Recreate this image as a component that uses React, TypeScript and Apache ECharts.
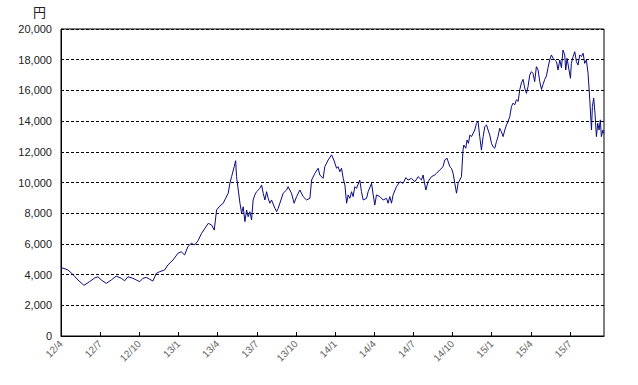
import React, { useEffect, useRef } from "react";
import * as echarts from "echarts";

// months elapsed since 2012-04 (x) and closing price in yen (y)
const months = [
  0.02, 0.23, 0.54, 0.92, 1.3, 1.76, 2.2, 2.58, 2.83, 3.09, 3.47, 3.85, 4.23, 4.62, 4.88, 5.13,
  5.51, 5.77, 6.03, 6.28, 6.53, 6.79, 7.04, 7.3, 7.56, 7.94, 8.19, 8.58, 8.96, 9.21, 9.47, 9.72,
  9.98, 10.24, 10.49, 10.77, 11.03, 11.28, 11.54, 11.74, 11.92, 12.17, 12.43, 12.61, 12.81, 12.94,
  13.07, 13.27, 13.38, 13.45, 13.58, 13.71, 13.84, 13.96, 14.09, 14.22, 14.34, 14.47, 14.6, 14.72,
  14.85, 14.98, 15.24, 15.37, 15.49, 15.62, 15.75, 15.87, 16.0, 16.13, 16.39, 16.52, 16.64, 16.85,
  17.02, 17.28, 17.4, 17.66, 17.86, 18.05, 18.3, 18.55, 18.81, 19.07, 19.2, 19.45, 19.7, 19.83,
  20.08, 20.21, 20.47, 20.73, 20.93, 21.11, 21.23, 21.36, 21.49, 21.62, 21.75, 21.88, 22.0, 22.13,
  22.26, 22.38, 22.51, 22.64, 22.89, 23.02, 23.15, 23.41, 23.53, 23.79, 23.92, 24.04, 24.17, 24.43,
  24.68, 24.94, 25.06, 25.19, 25.32, 25.44, 25.7, 25.96, 26.21, 26.42, 26.59, 26.85, 27.11, 27.36,
  27.62, 27.74, 27.95, 28.12, 28.38, 28.64, 28.77, 29.02, 29.27, 29.4, 29.58, 29.66, 29.79, 29.91,
  30.04, 30.17, 30.3, 30.42, 30.55, 30.68, 30.8, 30.86, 31.01, 31.11, 31.22, 31.32, 31.45, 31.57,
  31.7, 31.83, 31.95, 32.08, 32.21, 32.34, 32.47, 32.6, 32.72, 32.85, 32.98, 33.1, 33.23, 33.36,
  33.48, 33.61, 33.74, 33.87, 34.0, 34.13, 34.25, 34.38, 34.51, 34.63, 34.76, 34.89, 35.02, 35.15,
  35.28, 35.4, 35.53, 35.66, 35.78, 35.91, 36.04, 36.16, 36.29, 36.42, 36.55, 36.68, 36.81, 36.93,
  37.06, 37.19, 37.31, 37.44, 37.57, 37.7, 37.83, 37.96, 38.08, 38.21, 38.34, 38.46, 38.59, 38.67,
  38.77, 38.92, 39.03, 39.1, 39.23, 39.36, 39.49, 39.61, 39.74, 39.87, 40.0, 40.12, 40.25, 40.38,
  40.51, 40.64, 40.71, 40.81, 40.91, 41.02, 41.12, 41.22, 41.32, 41.4, 41.52, 41.58,
];

const prices = [
  4450, 4400, 4300, 4000, 3650, 3300, 3550, 3780, 3860, 3650, 3430, 3650, 3900, 3760, 3600, 3860,
  3760, 3650, 3540, 3760, 3820, 3700, 3580, 4080, 4190, 4300, 4630, 4950, 5390, 5490, 5280, 5820,
  6040, 5930, 6200, 6690, 7020, 7340, 7230, 6900, 8210, 8470, 8650, 8970, 9300, 9950,
  10380, 11030, 11420, 10380, 9510, 8650, 7990, 8420, 7450, 8210, 7770, 8100, 7560, 8860,
  9190, 9400, 9620, 9840, 9300, 8860, 9400, 8970, 8650, 8860, 8320, 8100, 8320, 8860,
  9300, 9510, 9730, 9300, 8650, 9080, 9510, 9080, 8860, 8970, 10160, 10600, 10930, 10490,
  10270, 11030, 11470, 11800, 11400, 10930, 11030, 10700, 10930, 10270, 9840, 8650, 9190, 8970,
  9400, 9080, 9730, 9620, 10160, 9400, 8860, 8970, 9400, 9950, 9190, 8530, 9190, 9080,
  8860, 8970, 8650, 9080, 8650, 9190, 9730, 10050, 9950, 10320, 10160, 10270, 10050, 10380,
  10160, 10490, 9510, 10050, 10380, 10490, 10600, 10820, 11030, 11470, 11580, 11360, 11030, 10930,
  10600, 9950, 9300, 9950, 10160, 10380, 12120, 12440, 12230, 12770, 12550, 13090, 12990, 13200,
  13420, 13860, 13970, 12990, 12120, 12990, 13640, 13750, 13420, 13090, 12550, 12330, 12230, 12660,
  12990, 13530, 13310, 12990, 13420, 13750, 13970, 14290, 14950, 15170, 15060, 15390, 15280, 16060,
  16500, 16720, 16140, 15810, 16250, 17000, 17220, 17110, 16570, 17550, 17330, 16570, 16060, 16390,
  16720, 16940, 17480, 17980, 18310, 18090, 17980, 17870, 17330, 17980, 17480, 18630, 18310, 17330,
  18090, 17330, 16790, 17760, 18200, 18520, 17870, 17650, 18310, 18200, 18420, 17760, 17980, 17110,
  15390, 13420, 14950, 15500, 14510, 12990, 13860, 13420, 14080, 12990, 13420, 13200,
];

const unitLabel = "円";
const yTicks = { min: 0, max: 20000, step: 2000 };
const xRange = { min: 0, max: 41.6, step: 3 };

export default function App() {
  const ref = useRef<HTMLDivElement>(null);

  useEffect(() => {
    if (!ref.current) return;
    const chart = echarts.init(ref.current, undefined, { renderer: "svg" });
    const fmtMonth = (v: number) => {
      const m = Math.round(v);
      const y = 12 + Math.floor((3 + m) / 12);
      const mo = ((3 + m) % 12) + 1;
      return `${y}/${mo}`;
    };
    chart.setOption({
      animation: false,
      backgroundColor: "#fff",
      grid: {
        left: 61,
        right: 34,
        top: 29,
        bottom: 49,
        show: true,
        borderColor: "#000",
        borderWidth: 1,
        backgroundColor: "transparent",
      },
      graphic: [
        {
          type: "text",
          left: 33,
          top: 5,
          style: {
            text: unitLabel,
            font: "13px 'Noto Sans CJK JP'",
            fill: "#222",
          },
        },
      ],
      xAxis: {
        type: "value",
        min: xRange.min,
        max: xRange.max,
        interval: xRange.step,
        axisLine: { show: true, lineStyle: { color: "#000", width: 1 } },
        axisTick: { show: true, inside: true, length: 4, lineStyle: { color: "#000" } },
        splitLine: { show: false },
        axisLabel: {
          rotate: 45,
          margin: 6,
          color: "#666",
          fontSize: 10,
          fontFamily: "Liberation Sans, Arial, sans-serif",
          showMaxLabel: false,
          formatter: fmtMonth,
        },
      },
      yAxis: {
        type: "value",
        min: yTicks.min,
        max: yTicks.max,
        interval: yTicks.step,
        axisLine: { show: true, lineStyle: { color: "#000", width: 1 } },
        axisTick: { show: false },
        splitLine: { show: true, lineStyle: { color: "#000", type: [3, 2], width: 1 } },
        axisLabel: {
          margin: 9,
          color: "#222",
          fontSize: 11,
          fontFamily: "Liberation Sans, Arial, sans-serif",
          formatter: (v: number) => v.toLocaleString("en-US"),
        },
      },
      series: [
        {
          type: "line",
          data: months.map((m, i) => [m, prices[i]]),
          showSymbol: false,
          symbol: "none",
          lineStyle: { color: "#0a0a80", width: 1 },
        },
      ],
    });
    return () => chart.dispose();
  }, []);

  return (
    <div
      ref={ref}
      style={{ position: "absolute", left: 0, top: 0, width: 638, height: 385 }}
    />
  );
}
